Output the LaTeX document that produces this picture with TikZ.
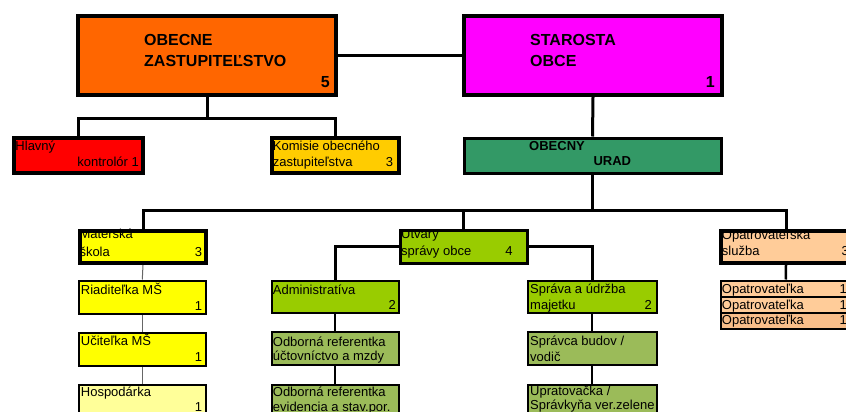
\documentclass[tikz,border=0pt]{standalone}
\usepackage{fontspec}
\setmainfont{Liberation Sans}
\usetikzlibrary{calc}
\definecolor{cOrange}{HTML}{FF6600}
\definecolor{cMagenta}{HTML}{FF00FF}
\definecolor{cSea}{HTML}{339966}
\definecolor{cRed}{HTML}{FF0000}
\definecolor{cGold}{HTML}{FFCC00}
\definecolor{cYellow}{HTML}{FFFF00}
\definecolor{cLightYellow}{HTML}{FFFF99}
\definecolor{cLime}{HTML}{99CC00}
\definecolor{cOlive}{HTML}{9BBB59}
\definecolor{cPeach}{HTML}{FFCC99}
\definecolor{cPeachDark}{HTML}{F8BE8A}
\tikzset{
  box/.style={draw=black, inner sep=0pt, anchor=north west},
  bigbox/.style={box, line width=4pt, minimum width=258pt, minimum height=79pt},
  t/.style={inner sep=0pt, anchor=base west, font=\fontsize{13}{15}\selectfont},
  te/.style={t, anchor=base east},
  tb/.style={inner sep=0pt, anchor=base west, font=\bfseries\fontsize{16}{19}\selectfont},
  tbe/.style={tb, anchor=base east},
  tm/.style={inner sep=0pt, anchor=base west, font=\bfseries\fontsize{13}{15}\selectfont},
  conn/.style={draw=black, line width=3pt},
  thinconn/.style={draw=black!60, line width=1pt},
  midconn/.style={draw=black, line width=2pt},
}
\begin{document}
\begin{tikzpicture}[x=1pt, y=-1pt]
\useasboundingbox (0,0) rectangle (846,412);
\clip (0,0) rectangle (846,412);
\fill[white] (0,0) rectangle (846,412);

% boxes
\node[bigbox, fill=cOrange] (oz) at (76,14) {};
\node[bigbox, fill=cMagenta] (st) at (462,14) {};
\node[box, line width=3pt, fill=cSea, minimum width=257pt, minimum height=35pt] (ou) at (462.5,136.5) {};
\node[box, line width=4pt, fill=cRed, minimum width=129pt, minimum height=35pt] (hl) at (12,136) {};
\node[box, line width=4pt, fill=cGold, minimum width=127pt, minimum height=35pt] (ko) at (270,136) {};

\node[box, line width=4pt, fill=cYellow, minimum width=126pt, minimum height=32pt] (ms) at (78,229) {};
\node[box, line width=2.6pt, fill=cYellow, minimum width=127pt, minimum height=33pt] (ri) at (77.5,279.5) {};
\node[box, line width=2.6pt, fill=cYellow, minimum width=127pt, minimum height=33pt] (uc) at (77.5,331.5) {};
\node[box, line width=2.6pt, fill=cLightYellow, minimum width=127pt, minimum height=40pt] (ho) at (77.5,383.5) {};

\node[box, line width=3pt, fill=cLime, minimum width=127pt, minimum height=33pt] (ut) at (398.5,228.5) {};
\node[box, line width=2.6pt, fill=cLime, minimum width=127pt, minimum height=32pt] (ad) at (270.5,279.5) {};
\node[box, line width=2.6pt, fill=cOlive, minimum width=127pt, minimum height=33pt] (o1) at (270.5,330.5) {};
\node[box, line width=2.6pt, fill=cOlive, minimum width=127pt, minimum height=40pt] (o2) at (270.5,383.5) {};

\node[box, line width=2.6pt, fill=cLime, minimum width=129pt, minimum height=32pt] (sp) at (526.5,279.5) {};
\node[box, line width=2.6pt, fill=cOlive, minimum width=129pt, minimum height=33pt] (sb) at (526.5,330.5) {};
\node[box, line width=2.6pt, fill=cOlive, minimum width=129pt, minimum height=40pt] (up) at (526.5,383.5) {};

\node[box, line width=4pt, fill=cPeach, minimum width=130pt, minimum height=32pt] (op) at (719,229) {};
\node[box, line width=2.5pt, fill=cPeach, minimum width=130pt, minimum height=16pt] (r1) at (719.5,279.5) {};
\node[box, line width=2.5pt, fill=cPeach, minimum width=130pt, minimum height=16pt] (r2) at (719.5,295.5) {};
\node[box, line width=2.5pt, fill=cPeachDark, minimum width=130pt, minimum height=16pt] (r3) at (719.5,311.5) {};

% connectors
\draw[conn] (oz.east) -- (st.west);
\draw[conn] (st.south) -- (ou.north);
\coordinate (j1) at ($(oz.south)+(0,21)$);
\draw[conn] (oz.south) -- (j1);
\draw[conn] (hl.north) |- (j1) -| (ko.north);
\coordinate (j2) at ($(ou.south)+(0,35.5)$);
\draw[conn] (ou.south) -- (j2);
\draw[conn] (ms.north) |- (j2) -| (op.north);
\draw[conn] (j2) -| (ut.north);
\draw[conn] (ut.west) -| (ad.north);
\draw[conn] (ut.east) -| (sp.north);
\draw[thinconn] (ms.south) -- (ri.north);
\draw[thinconn] (ri.south) -- (uc.north);
\draw[thinconn] (uc.south) -- (ho.north);
\draw[midconn] (ad.south) -- (o1.north);
\draw[midconn] (o1.south) -- (o2.north);
\draw[midconn] (sp.south) -- (sb.north);
\draw[midconn] (sb.south) -- (up.north);
\draw[line width=2.5pt] (op.south) -- (r1.north);

% texts
\node[tb] (ozt1) at (144,45.3) {OBECNE};
\node[tb] (ozt2) at (144,66.7) {ZASTUPITEĽSTVO};
\node[tbe] (ozn) at (330,87.3) {5};
\node[tb] (stt1) at (530,45.3) {STAROSTA};
\node[tb] (stt2) at (530,66.7) {OBCE};
\node[tbe] (stn) at (715,87.3) {1};
\node[tm] (out1) at (529,150) {OBECNY};
\node[tm] (out2) at (593.3,165.7) {URAD};

\node[t] (hlt1) at (15.3,150.7) {Hlavný};
\node[te] (hlt2) at (139,166.7) {kontrolór 1};
\node[t] (kot1) at (272.7,150) {Komisie obecného};
\node[t] (kot2) at (272.7,166.7) {zastupiteľstva};
\node[te] (kon) at (393.3,166.7) {3};

\node[t] (mst1) at (79.3,238.3) {Materská};
\node[t] (mst2) at (79.3,256) {škola};
\node[te] (msn) at (202.3,256) {3};
\node[t] (rit) at (80.7,294) {Riaditeľka MŠ};
\node[te] (rin) at (202.3,310) {1};
\node[t] (uct) at (80.7,345.7) {Učiteľka MŠ};
\node[te] (ucn) at (202.3,361.7) {1};
\node[t] (hot) at (80.7,396) {Hospodárka};
\node[te] (hon) at (202.3,411.7) {1};

\node[t] (utt1) at (401,238.3) {Utvary};
\node[t] (utt2) at (401,255) {správy obce};
\node[te] (utn) at (512.7,255) {4};
\node[t] (adt) at (272.7,294) {Administratíva};
\node[te] (adn) at (396,309.3) {2};
\node[t] (o1t1) at (272.7,346) {Odborná referentka};
\node[t] (o1t2) at (272.7,360) {účtovníctvo a mzdy};
\node[t] (o2t1) at (272.7,396) {Odborná referentka};
\node[t] (o2t2) at (272.7,411) {evidencia a stav.por.};

\node[t] (spt1) at (530,293.3) {Správa a údržba};
\node[t] (spt2) at (530,309.3) {majetku};
\node[te] (spn) at (652,309.3) {2};
\node[t] (sbt1) at (530,345.7) {Správca budov /};
\node[t] (sbt2) at (530,361) {vodič};
\node[t] (upt1) at (530,395) {Upratovačka /};
\node[t] (upt2) at (530,409.3) {Správkyňa ver.zelene};

\node[t] (opt1) at (721.7,239.3) {Opatrovateľská};
\node[t] (opt2) at (721.7,255) {služba};
\node[te] (opn) at (849,255) {3};
\node[t] (r1t) at (721.7,293.3) {Opatrovateľka};
\node[te] (r1n) at (847,293.3) {1};
\node[t] (r2t) at (721.7,309) {Opatrovateľka};
\node[te] (r2n) at (847,309) {1};
\node[t] (r3t) at (721.7,324) {Opatrovateľka};
\node[te] (r3n) at (847,324) {1};
\end{tikzpicture}
\end{document}
